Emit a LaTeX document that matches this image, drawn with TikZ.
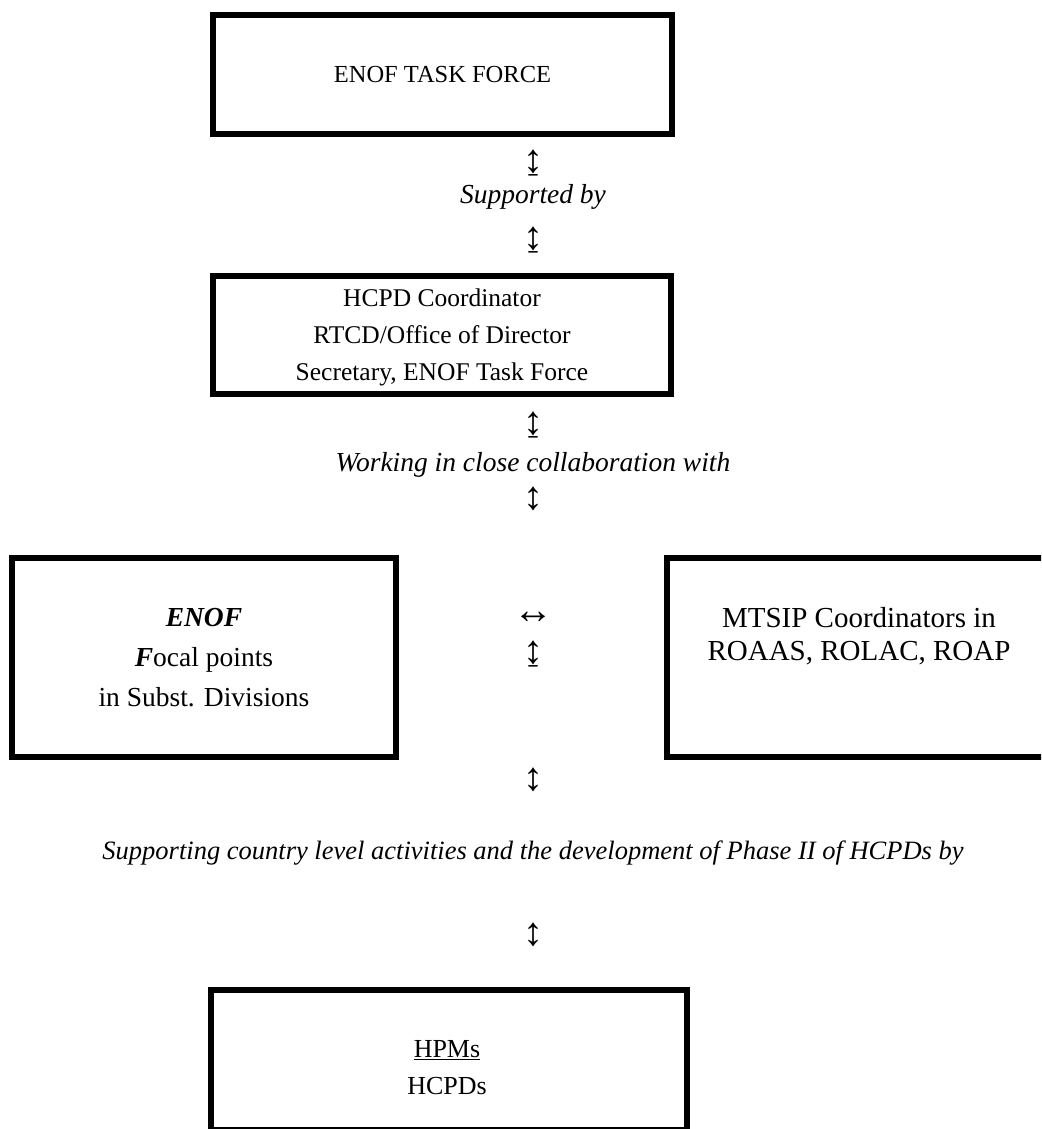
\documentclass[tikz,border=0pt]{standalone}
\usepackage{fontspec}
\setmainfont{Liberation Serif}
\begin{document}
\begin{tikzpicture}[x=1pt,y=-1pt,
  box/.style={draw, line width=6pt, inner sep=0pt, outer sep=0pt},
  boxtext/.style={align=center, inner sep=0pt, font=\fontsize{26}{37}\selectfont},
  lbl/.style={inner sep=0pt, font=\fontsize{27.5}{34}\selectfont\itshape},
  arr/.style={inner sep=0pt, font=\fontsize{40}{42}\selectfont}]
\clip (0,0) rectangle (1041,1129);
% boxes
\node[box, minimum width=459pt, minimum height=119pt] (b1) at (442.5,74.5) {};
\node[box, minimum width=458pt, minimum height=118pt] (b2) at (442,335) {};
\node[box, minimum width=384pt, minimum height=199pt] (b3) at (204,657.5) {};
\node[box, minimum width=380pt, minimum height=199pt] (b4) at (857,657.5) {};
\node[box, minimum width=476pt, minimum height=140pt] (b5) at (449,1060) {};
% box texts
\node[boxtext, font=\fontsize{24.5}{37}\selectfont] (t1) at (b1.center) {ENOF TASK FORCE};
\node[boxtext, font=\fontsize{25.5}{37}\selectfont] (t2) at (442,337) {HCPD Coordinator\\RTCD/Office of Director\\Secretary, ENOF Task Force};
\node[boxtext, font=\fontsize{27.5}{40}\selectfont] (t3) at (204,658) {\textbf{\textit{ENOF}}\\\textbf{\textit{F}}ocal points\\in Subst. Divisions};
\node[boxtext, font=\fontsize{29}{33}\selectfont] (t4) at (859,636) {MTSIP Coordinators in\\ROAAS, ROLAC, ROAP};
\node[boxtext] (t5) at (447,1068) {\underline{HPMs}\\HCPDs};
% linking arrows and labels
\node[arr] (a1) at (533,163) {↨};
\node[lbl] (l1) at (533,197) {Supported by};
\node[arr] (a2) at (533,240) {↨};
\node[arr] (a3) at (533,425) {↨};
\node[lbl] (l2) at (533,465) {Working in close collaboration with};
\node[arr] (a4) at (533,499) {↕};
\node[arr] (a5) at (533,618) {↔};
\node[arr] (a6) at (533,654) {↨};
\node[arr] (a7) at (533,780) {↕};
\node[lbl, font=\fontsize{26.5}{34}\selectfont\itshape] (l3) at (533,853) {Supporting country level activities and the development of Phase II of HCPDs by};
\node[arr] (a8) at (533,935) {↕};
\end{tikzpicture}
\end{document}
